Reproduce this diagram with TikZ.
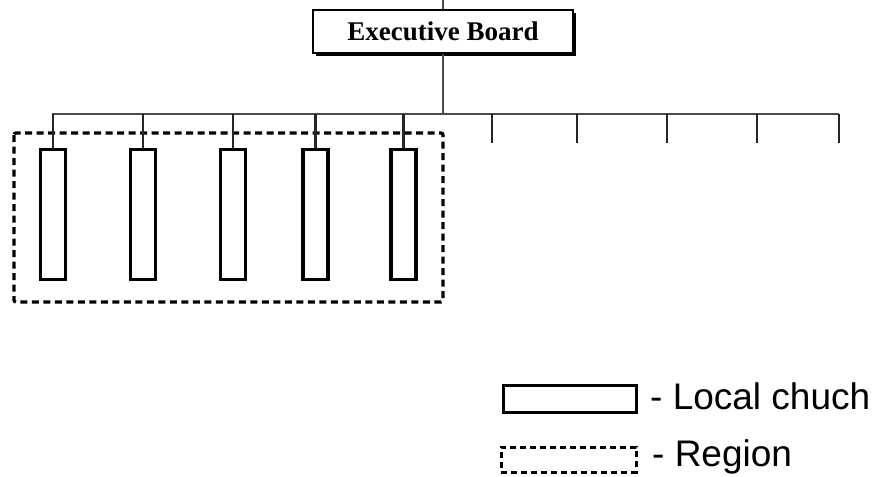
\documentclass[tikz,border=0pt]{standalone}
\usepackage{fontspec}
\setmainfont{Liberation Serif}
\setsansfont{Liberation Sans}
\begin{document}
\begin{tikzpicture}[x=1pt,y=-1pt,
  church/.style={draw=black,line width=3.2pt,minimum width=25pt,minimum height=130pt,inner sep=0pt,anchor=north},
  region/.style={draw=black,line width=3.2pt,dash pattern=on 7pt off 4.5pt,rounded corners=2pt},
  branch/.style={draw=black!70,line width=2pt},
  tick/.style={draw=black!85,line width=2.4pt},
  leg/.style={font=\sffamily\fontsize{37}{42}\selectfont,anchor=west,inner sep=0pt}]
\useasboundingbox (0,0) rectangle (874,476);
% executive board
\fill[black] (316,13) rectangle (576,56);
\node[draw=black,fill=white,line width=1.8pt,minimum width=260pt,minimum height=43pt,inner sep=0pt,anchor=north west,font=\bfseries\fontsize{27}{30}\selectfont] (eb) at (312,9) {Executive Board};
\coordinate (top) at (443,0);
\draw[branch] (top) -- (eb.north -| top);
\coordinate (j) at (443,114);
\draw[branch] (eb.south -| j) -- (j);
\coordinate (hl) at (52,114);
\coordinate (hr) at (839,114);
\draw[branch] (hl) -- (hr);
% region
\draw[region] (14,133) rectangle (443,302);
% churches
\foreach \n/\x in {1/53,2/143,3/233,4/315.5,5/403.5}{
  \node[church] (c\n) at (\x,148) {};
  \draw[tick] (c\n.north |- hl) -- (c\n.north);
}
% empty branches
\foreach \n/\x in {6/492,7/577,8/667,9/757,10/839}{
  \coordinate (e\n) at (\x,143);
  \draw[tick] (e\n |- hl) -- (e\n);
}
% legend
\node[draw=black,line width=3.2pt,minimum width=133pt,minimum height=27pt,inner sep=0pt,anchor=north west] (lc) at (502,384) {};
\node[leg] (lct) at (650,396) {- Local chuch};
\node[draw=black,line width=2.8pt,dash pattern=on 6pt off 4pt,minimum width=135pt,minimum height=25pt,inner sep=0pt,anchor=north west] (lr) at (500,446) {};
\node[leg] (lrt) at (652,457) {- Region};
\end{tikzpicture}
\end{document}
